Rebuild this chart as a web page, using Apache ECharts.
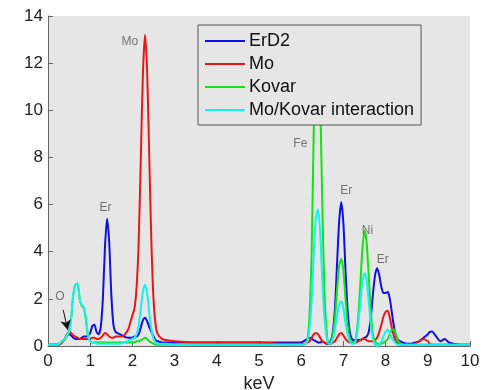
<!DOCTYPE html>
<html>
<head>
<meta charset="utf-8">
<script src="https://cdn.jsdelivr.net/npm/echarts@6/dist/echarts.min.js"></script>
<style>
html,body{margin:0;padding:0;background:#fff;}
#chart{width:483px;height:390px;}
</style>
</head>
<body>
<div id="chart"></div>
<script>
// Energy axis (keV) shared by all spectra
const keV = [
  0,0.1,0.2,0.3,0.4,0.45,0.5,0.55,0.6,0.65,0.7,0.75,0.8,0.85,0.9,0.95,
  1.0,1.05,1.1,1.15,1.2,1.25,1.3,1.35,1.4,1.45,1.5,1.55,1.6,
  1.7,1.8,1.9,1.95,2.0,2.05,2.1,2.15,2.2,2.25,2.3,2.35,2.4,2.45,2.5,2.55,2.6,
  2.7,2.8,3.0,3.5,4.0,4.5,5.0,5.5,5.8,6.0,6.1,6.15,
  6.2,6.25,6.3,6.35,6.4,6.45,6.5,6.55,6.6,6.65,6.7,6.75,6.8,6.85,6.9,6.95,
  7.0,7.05,7.1,7.15,7.2,7.25,7.3,7.35,7.4,7.45,7.5,7.55,7.6,7.65,7.7,7.75,
  7.8,7.85,7.9,7.95,8.0,8.05,8.1,8.15,8.2,8.25,8.3,8.35,8.4,
  8.5,8.6,8.7,8.8,8.9,9.0,9.05,9.1,9.2,9.3,9.4,9.5,9.6,9.8,10.0
];
const erD2 = [
  0.05,0.05,0.05,0.1,0.3,0.45,0.5,0.45,0.35,0.3,0.3,0.3,0.35,0.4,0.4,0.45,
  0.55,0.85,0.9,0.6,0.5,0.8,2.0,4.2,5.4,4.4,2.2,0.9,0.6,
  0.5,0.4,0.35,0.35,0.35,0.4,0.4,0.5,0.8,1.1,1.2,1.05,0.8,0.6,0.4,0.25,0.2,
  0.15,0.15,0.15,0.15,0.15,0.15,0.15,0.15,0.15,0.15,0.25,0.3,
  0.35,0.3,0.25,0.2,0.15,0.15,0.2,0.15,0.1,0.1,0.2,0.6,1.6,3.5,5.3,6.1,
  5.2,3.2,1.5,0.6,0.3,0.25,0.25,0.25,0.25,0.3,0.35,0.4,0.6,1.2,2.2,3.0,
  3.3,3.0,2.5,2.25,2.25,2.3,2.0,1.4,0.8,0.4,0.25,0.2,0.15,
  0.1,0.1,0.15,0.2,0.35,0.5,0.6,0.62,0.4,0.2,0.3,0.15,0.1,0.05,0.05
];
const mo = [
  0.05,0.05,0.05,0.1,0.3,0.5,0.6,0.55,0.45,0.4,0.35,0.3,0.3,0.3,0.3,0.3,
  0.3,0.35,0.35,0.3,0.3,0.35,0.45,0.55,0.5,0.4,0.35,0.35,0.4,
  0.4,0.45,0.7,1.0,1.3,1.6,2.5,4.5,8.0,11.6,13.2,11.6,8.0,4.4,2.0,0.9,0.5,
  0.3,0.25,0.2,0.15,0.15,0.15,0.15,0.1,0.1,0.1,0.1,0.15,
  0.2,0.35,0.5,0.55,0.5,0.35,0.2,0.15,0.1,0.1,0.1,0.15,0.2,0.35,0.5,0.55,
  0.45,0.3,0.2,0.15,0.15,0.15,0.15,0.2,0.25,0.3,0.3,0.25,0.2,0.2,0.2,0.25,
  0.35,0.6,0.9,1.25,1.45,1.5,1.2,0.75,0.4,0.2,0.1,0.05,0.05,
  0.05,0.05,0.1,0.2,0.3,0.2,0.1,0.05,0.05,0.05,0.05,0.05,0.05,0.05,0.05
];
const kovar = [
  0.05,0.05,0.05,0.15,0.3,0.45,0.6,1.2,2.2,2.6,2.65,2.0,1.7,1.6,1.1,0.4,
  0.2,0.15,0.15,0.15,0.15,0.15,0.15,0.15,0.15,0.15,0.15,0.15,0.15,
  0.15,0.15,0.15,0.15,0.15,0.15,0.2,0.2,0.25,0.3,0.35,0.3,0.2,0.15,0.1,0.05,0.05,
  0.05,0.05,0.05,0.05,0.05,0.05,0.05,0.05,0.05,0.05,0.1,0.3,
  1.4,4.2,9.5,12.8,13.2,10.5,6.0,2.4,0.7,0.2,0.2,0.5,1.2,2.4,3.4,3.7,
  3.2,2.0,0.9,0.35,0.15,0.15,0.4,1.2,2.6,4.1,4.9,4.4,3.0,1.5,0.5,0.2,
  0.1,0.1,0.1,0.15,0.2,0.3,0.5,0.7,0.7,0.45,0.2,0.1,0.05,
  0.05,0.05,0.05,0.05,0.05,0.05,0.05,0.05,0.05,0.05,0.05,0.05,0.05,0.05,0.05
];
const moKovar = [
  0.05,0.05,0.05,0.15,0.3,0.45,0.6,1.2,2.2,2.6,2.65,2.0,1.75,1.65,1.2,0.45,
  0.2,0.15,0.15,0.1,0.1,0.1,0.1,0.1,0.1,0.1,0.1,0.1,0.1,
  0.1,0.15,0.2,0.25,0.3,0.35,0.5,0.9,1.6,2.3,2.6,2.2,1.4,0.7,0.3,0.15,0.1,
  0.1,0.1,0.05,0.05,0.05,0.05,0.05,0.05,0.05,0.05,0.1,0.2,
  0.8,2.0,4.0,5.5,5.8,4.8,2.8,1.2,0.4,0.1,0.1,0.3,0.7,1.3,1.75,1.9,
  1.6,1.0,0.5,0.2,0.1,0.1,0.3,0.9,1.8,2.7,3.1,2.8,1.9,0.9,0.3,0.05,
  0.0,0.05,0.2,0.4,0.6,0.7,0.55,0.35,0.2,0.1,0.05,0.05,0.05,
  0.05,0.05,0.05,0.05,0.05,0.05,0.05,0.05,0.05,0.05,0.05,0.05,0.05,0.05,0.05
];
const seriesNames = ['ErD2','Mo','Kovar','Mo/Kovar interaction'];
// Peak labels: [text, keV, counts]
const peakLabels = [
  ['Mo', 1.94, 12.9],
  ['Er', 1.36, 5.88],
  ['Fe', 5.98, 8.57],
  ['Er', 7.07, 6.58],
  ['Ni', 7.57, 4.88],
  ['Er', 7.93, 3.65],
  ['O', 0.28, 2.08]
];
// O arrow: from -> to (keV, counts)
const oArrow = [[0.36, 1.53], [0.47, 0.68]];

const colors = ['#1010e0','#e81818','#18e018','#18f0f0'];
const values = [erD2, mo, kovar, moKovar];
const pair = arr => keV.map((x, i) => [x, arr[i]]);

const series = seriesNames.map((n, k) => ({
  name: n,
  type: 'line',
  data: pair(values[k]),
  symbol: 'none',
  showSymbol: false,
  smooth: 0.25,
  clip: true,
  lineStyle: { width: 2, color: colors[k] },
  itemStyle: { color: colors[k] },
  z: 2,
  animation: false
}));

series.push({
  name: 'labels',
  type: 'scatter',
  data: peakLabels.map(p => ({ name: p[0], value: [p[1], p[2]] })),
  symbolSize: 0,
  silent: true,
  z: 3,
  label: {
    show: true,
    position: 'inside',
    formatter: p => p.name,
    color: '#555',
    fontSize: 12,
    fontFamily: 'Liberation Sans, Arial, sans-serif'
  },
  markLine: {
    silent: true,
    symbol: ['none', 'arrow'],
    symbolSize: [8, 10],
    label: { show: false },
    lineStyle: { color: '#111', width: 1, type: 'solid' },
    data: [[{ coord: oArrow[0] }, { coord: oArrow[1] }]],
    animation: false
  },
  animation: false
});

const chart = echarts.init(document.getElementById('chart'), null, { renderer: 'canvas' });
chart.setOption({
  animation: false,
  backgroundColor: '#ffffff',
  textStyle: { fontFamily: 'Liberation Sans, Arial, sans-serif' },
  grid: {
    left: 48, right: 13, top: 16, bottom: 44,
    outerBoundsMode: 'none',
    containLabel: false,
    show: true, backgroundColor: '#e6e6e6', borderWidth: 0
  },
  legend: {
    data: seriesNames.map(n => ({ name: n, icon: 'rect' })),
    orient: 'vertical',
    left: 198, top: 25,
    z: 20,
    padding: [7, 7, 6, 7],
    itemGap: 5,
    itemWidth: 40, itemHeight: 2,
    backgroundColor: '#e6e6e6',
    borderColor: '#555', borderWidth: 1,
    textStyle: { fontSize: 18, color: '#111', fontFamily: 'Liberation Sans, Arial, sans-serif', height: 18, lineHeight: 18, padding: [0,0,0,-1] },
    selectedMode: false
  },
  xAxis: {
    type: 'value', min: 0, max: 10, interval: 1,
    name: 'keV', nameLocation: 'middle', nameGap: 23,
    nameTextStyle: { fontSize: 18, color: '#222' },
    axisLine: { show: true, onZero: false, lineStyle: { color: '#666', width: 1 } },
    axisTick: { show: true, inside: true, length: 5, lineStyle: { color: '#666' } },
    axisLabel: { fontSize: 17, color: '#222', margin: 7 },
    splitLine: { show: false }
  },
  yAxis: {
    type: 'value', min: 0, max: 14, interval: 2,
    axisLine: { show: true, onZero: false, lineStyle: { color: '#666', width: 1 } },
    axisTick: { show: true, inside: true, length: 5, lineStyle: { color: '#666' } },
    axisLabel: { fontSize: 17, color: '#222', margin: 5 },
    splitLine: { show: false }
  },
  series: series
});
</script>
</body>
</html>
